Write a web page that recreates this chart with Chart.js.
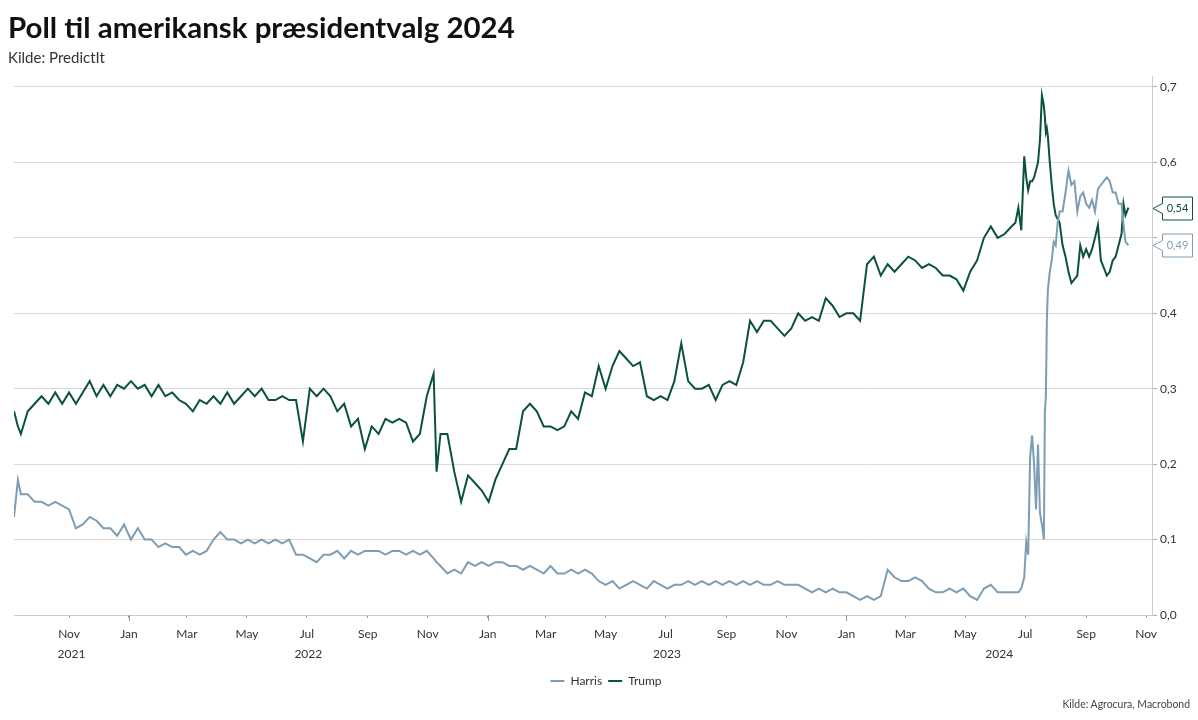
<!DOCTYPE html>
<html><head><meta charset="utf-8">
<script src="https://cdn.jsdelivr.net/npm/chart.js@4.4.1/dist/chart.umd.min.js"></script>
<style>
html,body{margin:0;padding:0;background:#fff;width:1198px;height:720px;overflow:hidden;font-family:Lato,sans-serif}
#wrap{position:relative;width:1198px;height:720px}
canvas{position:absolute;left:0;top:0}
.t{position:absolute;white-space:nowrap;margin:0;padding:0;font-family:Lato,sans-serif}
#title{left:8px;font-weight:700;color:#111}
#sub{left:8px;font-weight:400;color:#333}
#foot{right:8px;font-weight:400;color:#444}
</style></head><body>
<div id="wrap">
<canvas id="c" width="1198" height="720"></canvas>
<h1 class="t" id="title">Poll til amerikansk præsidentvalg 2024</h1>
<div class="t" id="sub">Kilde: PredictIt</div>
<div class="t" id="foot">Kilde: Agrocura, Macrobond</div>
</div>
<script>
const dates = [
 '2021-09-06','2021-09-10','2021-09-13','2021-09-20','2021-09-27',
 '2021-10-04','2021-10-11','2021-10-18','2021-10-25',
 '2021-11-01','2021-11-08','2021-11-15','2021-11-22','2021-11-29',
 '2021-12-06','2021-12-13','2021-12-20','2021-12-27',
 '2022-01-03','2022-01-10','2022-01-17','2022-01-24','2022-01-31',
 '2022-02-07','2022-02-14','2022-02-21','2022-02-28',
 '2022-03-07','2022-03-14','2022-03-21','2022-03-28',
 '2022-04-04','2022-04-11','2022-04-18','2022-04-25',
 '2022-05-02','2022-05-09','2022-05-16','2022-05-23','2022-05-30',
 '2022-06-06','2022-06-13','2022-06-20','2022-06-27',
 '2022-07-04','2022-07-11','2022-07-18','2022-07-25',
 '2022-08-01','2022-08-08','2022-08-15','2022-08-22','2022-08-29',
 '2022-09-05','2022-09-12','2022-09-19','2022-09-26',
 '2022-10-03','2022-10-10','2022-10-17','2022-10-24','2022-10-31',
 '2022-11-07','2022-11-10','2022-11-14','2022-11-21','2022-11-28',
 '2022-12-05','2022-12-12','2022-12-19','2022-12-26',
 '2023-01-02','2023-01-09','2023-01-16','2023-01-23','2023-01-30',
 '2023-02-06','2023-02-13','2023-02-20','2023-02-27',
 '2023-03-06','2023-03-13','2023-03-20','2023-03-27',
 '2023-04-03','2023-04-10','2023-04-17','2023-04-24',
 '2023-05-01','2023-05-08','2023-05-15','2023-05-22','2023-05-29',
 '2023-06-05','2023-06-12','2023-06-19','2023-06-26',
 '2023-07-03','2023-07-10','2023-07-17','2023-07-24','2023-07-31',
 '2023-08-07','2023-08-14','2023-08-21','2023-08-28',
 '2023-09-04','2023-09-11','2023-09-18','2023-09-25',
 '2023-10-02','2023-10-09','2023-10-16','2023-10-23','2023-10-30',
 '2023-11-06','2023-11-13','2023-11-20','2023-11-27',
 '2023-12-04','2023-12-11','2023-12-18','2023-12-25',
 '2024-01-01','2024-01-08','2024-01-15','2024-01-22','2024-01-29',
 '2024-02-05','2024-02-12','2024-02-19','2024-02-26',
 '2024-03-04','2024-03-11','2024-03-18','2024-03-25',
 '2024-04-01','2024-04-08','2024-04-15','2024-04-22','2024-04-29',
 '2024-05-06','2024-05-13','2024-05-20','2024-05-27',
 '2024-06-03','2024-06-10','2024-06-17','2024-06-21','2024-06-24','2024-06-27','2024-06-30',
 '2024-07-02','2024-07-04','2024-07-06','2024-07-08','2024-07-10','2024-07-12','2024-07-14','2024-07-16','2024-07-18','2024-07-20','2024-07-21','2024-07-22','2024-07-23','2024-07-24','2024-07-26','2024-07-28','2024-07-30',
 '2024-08-01','2024-08-03','2024-08-05','2024-08-08','2024-08-11','2024-08-14','2024-08-17','2024-08-20','2024-08-23','2024-08-26','2024-08-29',
 '2024-09-01','2024-09-04','2024-09-07','2024-09-10','2024-09-13','2024-09-16','2024-09-19','2024-09-22','2024-09-25','2024-09-28',
 '2024-10-01','2024-10-04','2024-10-07','2024-10-09','2024-10-11','2024-10-14'
];
const trump = [
 .27,.25,.24,.27,.28,
 .29,.28,.295,.28,
 .295,.28,.295,.31,.29,
 .305,.29,.305,.30,
 .31,.30,.305,.29,.305,
 .29,.295,.285,.28,
 .27,.285,.28,.29,
 .28,.295,.28,.29,
 .30,.29,.30,.285,.285,
 .29,.285,.285,.23,
 .30,.29,.30,.29,
 .27,.28,.25,.26,.22,
 .25,.24,.26,.255,
 .26,.255,.23,.24,.29,
 .32,.19,.24,.24,.19,
 .15,.185,.175,.165,
 .15,.18,.20,.22,.22,
 .27,.28,.27,.25,
 .25,.245,.25,.27,
 .26,.295,.29,.33,
 .30,.33,.35,.34,.33,
 .335,.29,.285,.29,
 .285,.31,.36,.31,.30,
 .30,.305,.285,.305,
 .31,.305,.335,.39,
 .375,.39,.39,.38,.37,
 .38,.40,.39,.395,
 .39,.42,.41,.395,
 .40,.40,.39,.465,.475,
 .45,.465,.455,.465,
 .475,.47,.46,.465,
 .46,.45,.45,.445,.43,
 .455,.47,.50,.515,
 .50,.505,.515,.52,.54,.51,.608,
 .58,.563,.575,.575,.58,.59,.60,.63,.689,.675,.66,.64,.645,.635,.60,.57,.545,
 .53,.525,.52,.49,.475,.455,.44,.445,.45,.49,.475,
 .485,.475,.485,.50,.517,.47,.46,.45,.455,.47,
 .475,.49,.505,.545,.53,.54
];
const harris = [
 .13,.179,.16,.16,.15,
 .15,.145,.15,.145,
 .14,.115,.12,.13,.125,
 .115,.115,.105,.12,
 .10,.115,.10,.10,.09,
 .095,.09,.09,.08,
 .085,.08,.085,.10,
 .11,.10,.10,.095,
 .10,.095,.10,.095,.10,
 .095,.10,.08,.08,
 .075,.07,.08,.08,
 .085,.075,.085,.08,.085,
 .085,.085,.08,.085,
 .085,.08,.085,.08,.085,
 .075,.07,.065,.055,.06,
 .055,.07,.065,.07,
 .065,.07,.07,.065,.065,
 .06,.065,.06,.055,
 .065,.055,.055,.06,
 .055,.06,.055,.045,
 .04,.045,.035,.04,.045,
 .04,.035,.045,.04,
 .035,.04,.04,.045,.04,
 .045,.04,.045,.04,
 .045,.04,.045,.04,
 .045,.04,.04,.045,.04,
 .04,.04,.035,.03,
 .035,.03,.035,.03,
 .03,.025,.02,.025,.02,
 .025,.06,.05,.045,
 .045,.05,.045,.035,
 .03,.03,.035,.03,.035,
 .025,.02,.035,.04,
 .03,.03,.03,.03,.03,.035,.05,
 .097,.08,.21,.238,.20,.14,.226,.135,.12,.10,.27,.29,.39,.43,.455,.47,.495,
 .49,.52,.535,.535,.56,.589,.57,.575,.535,.555,.56,
 .545,.54,.55,.535,.565,.57,.575,.58,.575,.56,
 .56,.545,.545,.517,.495,.49
];
const tickDates = ['2021-11-01','2022-01-01','2022-03-01','2022-05-01','2022-07-01','2022-09-01','2022-11-01',
 '2023-01-01','2023-03-01','2023-05-01','2023-07-01','2023-09-01','2023-11-01',
 '2024-01-01','2024-03-01','2024-05-01','2024-07-01','2024-09-01','2024-11-01'];
const tickLabels = ['Nov','Jan','Mar','May','Jul','Sep','Nov','Jan','Mar','May','Jul','Sep','Nov','Jan','Mar','May','Jul','Sep','Nov'];
const years = ['2021','2022','2023','2024'];
const yTicks = [0,0.1,0.2,0.3,0.4,0.5,0.6,0.7];
const xStart = '2021-09-06', xEnd = '2024-11-07';

const HARRIS = '#7d9db5', TRUMP = '#0a5239';
const dayOf = s => { const [y,m,d] = s.split('-').map(Number); return Date.UTC(y,m-1,d)/864e5; };
const fmt = v => v.toFixed(2).replace('.', ',');

function fitText(id, weight, targetW, baseline){
  const el = document.getElementById(id);
  const c = document.createElement('canvas').getContext('2d');
  c.font = weight + ' 100px Lato';
  const w = c.measureText(el.textContent).width;
  const s = 100*targetW/w;
  el.style.fontSize = s+'px'; el.style.lineHeight = s+'px';
  el.style.top = (baseline - 0.887*s)+'px';
}
fitText('title', 700, 507, 38);
fitText('sub', 400, 97, 63);
fitText('foot', 400, 128, 708);

Chart.defaults.font.family = 'Lato';

const deco = {
  id: 'deco',
  afterDraw(chart){
    const {ctx, chartArea, scales:{x, y}} = chart;
    ctx.save();
    ctx.strokeStyle = '#999'; ctx.lineWidth = 1;
    tickDates.forEach((d,i) => {
      if (tickLabels[i] === 'Jan') {
        const px = Math.round(x.getPixelForValue(dayOf(d))) + 0.5;
        ctx.beginPath(); ctx.moveTo(px, chartArea.bottom); ctx.lineTo(px, chartArea.bottom + 6); ctx.stroke();
      }
    });
    ctx.fillStyle = '#333'; ctx.font = '12px Lato'; ctx.textAlign = 'center'; ctx.textBaseline = 'middle';
    years.forEach(yr => {
      const s = Math.max(dayOf(yr + '-01-01'), x.min);
      const e = Math.min(dayOf((+yr + 1) + '-01-01'), x.max);
      ctx.fillText(yr, x.getPixelForValue((s + e) / 2), chartArea.bottom + 39);
    });
    chart.data.datasets.forEach(ds => {
      const v = ds.data[ds.data.length - 1].y;
      const py = Math.round(y.getPixelForValue(v)) + 0.5;
      const tip = chartArea.right + 1, l = chartArea.right + 10.5, r = chartArea.right + 40.5, h = 11.5;
      ctx.fillStyle = '#fff';
      ctx.fillRect(chartArea.right + 6, py - h - 2, 50, 2*h + 4);
      ctx.beginPath();
      ctx.moveTo(l, py - h); ctx.lineTo(r, py - h); ctx.lineTo(r, py + h); ctx.lineTo(l, py + h);
      ctx.lineTo(l, py + 5); ctx.lineTo(tip, py); ctx.lineTo(l, py - 5); ctx.closePath();
      ctx.fill();
      ctx.strokeStyle = ds.borderColor; ctx.lineWidth = 1; ctx.stroke();
      ctx.fillStyle = ds.borderColor; ctx.font = '11px Lato'; ctx.textAlign = 'center'; ctx.textBaseline = 'middle';
      ctx.fillText(fmt(v), (l + r) / 2, py);
    });
    ctx.restore();
  }
};

new Chart(document.getElementById('c'), {
  type: 'line',
  data: {
    datasets: [
      { label: 'Harris', data: dates.map((d,i) => ({x: dayOf(d), y: harris[i]})),
        borderColor: HARRIS, backgroundColor: HARRIS, borderWidth: 2, pointRadius: 0, tension: 0, fill: false },
      { label: 'Trump', data: dates.map((d,i) => ({x: dayOf(d), y: trump[i]})),
        borderColor: TRUMP, backgroundColor: TRUMP, borderWidth: 2, pointRadius: 0, tension: 0, fill: false }
    ]
  },
  options: {
    responsive: false, animation: false, devicePixelRatio: 1,
    layout: { padding: { top: 76, left: 14, right: 0, bottom: 23 } },
    scales: {
      x: {
        type: 'linear', min: dayOf(xStart), max: dayOf(xEnd),
        afterBuildTicks: s => { s.ticks = tickDates.map(d => ({value: dayOf(d)})); },
        afterFit: s => { s.height = 54; },
        ticks: { autoSkip: false, maxRotation: 0, minRotation: 0, padding: 9, color: '#333', font: {size: 12},
                 callback: (v, i) => tickLabels[i] },
        grid: { display: true, drawOnChartArea: false, drawTicks: true, tickLength: 3, tickColor: '#999' },
        border: { display: true, color: '#ccc' }
      },
      y: {
        position: 'right', min: 0, max: 0.7145,
        afterBuildTicks: s => { s.ticks = yTicks.map(v => ({value: v})); },
        afterFit: s => { s.width = 46; },
        ticks: { padding: 3, color: '#333', font: {size: 12}, callback: v => v.toFixed(1).replace('.', ',') },
        grid: { color: '#d9d9d9', tickLength: 5, tickColor: '#aaa' },
        border: { display: true, color: '#ccc' }
      }
    },
    plugins: {
      legend: {
        position: 'bottom',
        labels: {
          boxWidth: 14, boxHeight: 2, padding: 6, color: '#333', font: {size: 12},
          generateLabels: chart => Chart.defaults.plugins.legend.labels.generateLabels(chart)
            .map(l => Object.assign(l, {lineWidth: 0, fillStyle: l.strokeStyle}))
        }
      },
      tooltip: { enabled: false }
    }
  },
  plugins: [deco]
});
</script>
</body></html>
